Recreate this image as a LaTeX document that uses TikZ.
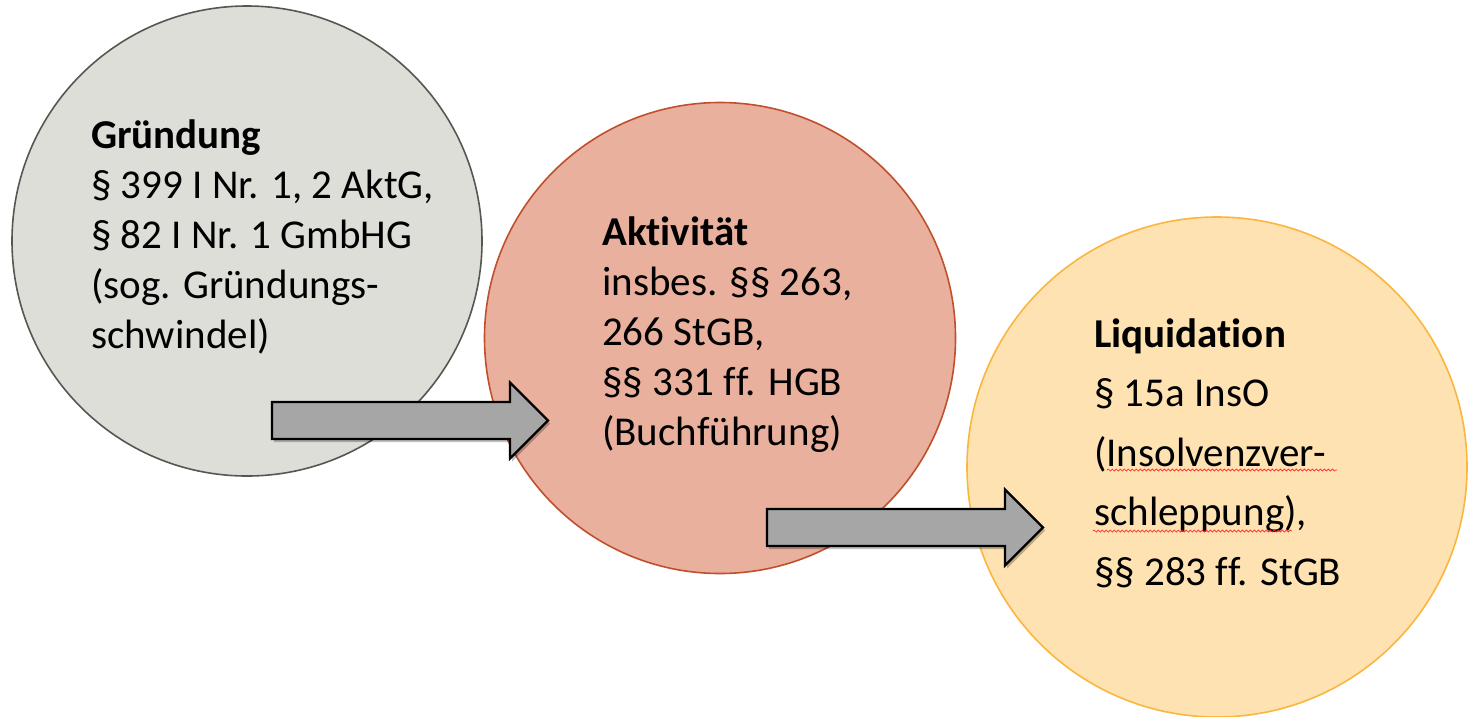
\documentclass[tikz,border=0pt]{standalone}
\usepackage{fontspec}
\setmainfont{Carlito}[Ligatures=NoCommon]
\usetikzlibrary{shadows,decorations.pathmorphing}

\definecolor{grundfill}{RGB}{222,222,217}
\definecolor{grunddraw}{RGB}{85,88,80}
\definecolor{aktivfill}{RGB}{233,176,157}
\definecolor{aktivdraw}{RGB}{192,80,45}
\definecolor{liquifill}{RGB}{254,226,178}
\definecolor{liquidraw}{RGB}{250,182,62}
\definecolor{arrowfill}{RGB}{166,166,166}

\begin{document}
\begin{tikzpicture}[x=1pt,y=-1pt]
  \tikzset{
    phase/.style={circle, inner sep=0pt, line width=1.6pt},
    phasetext/.style={align=left, inner sep=0pt, anchor=base west,
      font=\fontsize{41}{50}\selectfont},
    block arrow/.pic={
      \draw [fill=arrowfill, draw=black, line width=2.2pt, line join=miter,
        drop shadow={shadow xshift=2pt, shadow yshift=-3pt, opacity=.25, fill=black}]
      (0,-18.5) -- (238,-18.5) -- (238,-38) -- (276,0) -- (238,38) -- (238,18.5) -- (0,18.5) -- cycle;
    },
    squiggle/.style={draw=red!85, line width=.7pt,
      decorate, decoration={snake, amplitude=1pt, segment length=4pt}}
  }
  \useasboundingbox (0,0) rectangle (1474,716);

  \node [phase, fill=grundfill, draw=grunddraw, minimum size=470pt] (gruendung) at (247,241) {};
  \node [phase, fill=aktivfill, draw=aktivdraw, minimum size=471pt] (aktivitaet) at (720,338) {};
  \node [phase, fill=liquifill, draw=liquidraw, minimum size=500pt] (liquidation) at (1217,467) {};

  % base west sits on the last line
  \node [phasetext] (gruendung-text) at (91,348)
    {\textbf{Gründung}\\§ 399 I Nr. 1, 2 AktG,\\§ 82 I Nr. 1 GmbHG\\(sog. Gründungs-\\schwindel)};
  \node [phasetext] (aktivitaet-text) at (602,445)
    {\textbf{Aktivität}\\insbes. §§ 263,\\266 StGB,\\§§ 331 ff. HGB\\(Buchführung)};
  \node [phasetext, font=\fontsize{41}{59.5}\selectfont] (liquidation-text) at (1094,585)
    {\textbf{Liquidation}\\§ 15a InsO\\(Insolvenzver-\\schleppung),\\§§ 283 ff. StGB};

  \draw [squiggle] (1107,470) coordinate (sq-a) -- (1337,470);
  \draw [squiggle] (1093,531) coordinate (sq-b) -- (1292,531);

  \pic at (272,420.5) {block arrow};
  \pic at (767,527.5) {block arrow};
\end{tikzpicture}
\end{document}
